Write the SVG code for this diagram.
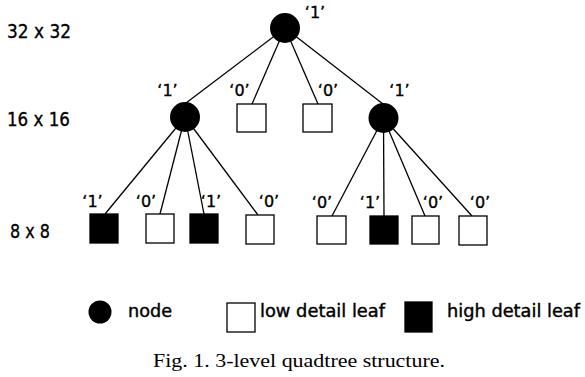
<svg xmlns="http://www.w3.org/2000/svg" width="585" height="377" viewBox="0 0 585 377">
  <style>
    .edge { stroke: #000; stroke-width: 1.3; fill: none; }
    .node { fill: #000; }
    .low { fill: #fff; stroke: #000; stroke-width: 1.3; }
    .high { fill: #000; stroke: #000; stroke-width: 1.3; }
    .lbl { font-family: "DejaVu Sans", "Liberation Sans", sans-serif; font-size: 16px; fill: #000; stroke: #000; stroke-width: 0.35; text-anchor: middle; }
    .lvl { font-family: "DejaVu Sans", "Liberation Sans", sans-serif; font-size: 19px; fill: #000; stroke: #000; stroke-width: 0.35; }
    .leg { font-family: "DejaVu Sans", "Liberation Sans", sans-serif; font-size: 17px; fill: #000; stroke: #000; stroke-width: 0.4; }
    .cap { font-family: "Liberation Serif", "Times New Roman", serif; font-size: 18px; fill: #000; }
  </style>

  <!-- level captions -->
  <g id="levels">
    <text class="lvl" x="7" y="38" textLength="64" lengthAdjust="spacingAndGlyphs">32 x 32</text>
    <text class="lvl" x="7" y="126" textLength="63" lengthAdjust="spacingAndGlyphs">16 x 16</text>
    <text class="lvl" x="10" y="238" textLength="40" lengthAdjust="spacingAndGlyphs">8 x 8</text>
  </g>

  <!-- tree edges -->
  <g id="connectors">
    <line class="edge" x1="285" y1="28" x2="186" y2="103"/>
    <line class="edge" x1="285" y1="28" x2="252" y2="104"/>
    <line class="edge" x1="285" y1="28" x2="318" y2="104"/>
    <line class="edge" x1="285" y1="28" x2="383" y2="104"/>
    <line class="edge" x1="185" y1="117" x2="105" y2="214"/>
    <line class="edge" x1="185" y1="117" x2="160" y2="214"/>
    <line class="edge" x1="185" y1="117" x2="204" y2="214"/>
    <line class="edge" x1="185" y1="117" x2="258" y2="215"/>
    <line class="edge" x1="383.5" y1="118" x2="332" y2="216"/>
    <line class="edge" x1="383.5" y1="118" x2="384" y2="216"/>
    <line class="edge" x1="383.5" y1="118" x2="425" y2="216"/>
    <line class="edge" x1="383.5" y1="118" x2="472" y2="216"/>
  </g>

  <!-- root -->
  <g id="root">
    <circle class="node" cx="285" cy="28" r="15"/>
    <text class="lbl" x="315" y="18">‘1’</text>
  </g>

  <!-- level 2 -->
  <g id="n16a">
    <circle class="node" cx="185" cy="117" r="15"/>
    <text class="lbl" x="167.5" y="96">‘1’</text>
  </g>
  <g id="n16b">
    <rect class="low" x="237" y="104" width="29" height="28"/>
    <text class="lbl" x="239.5" y="96">‘0’</text>
  </g>
  <g id="n16c">
    <rect class="low" x="303" y="104" width="29" height="28"/>
    <text class="lbl" x="328" y="96">‘0’</text>
  </g>
  <g id="n16d">
    <circle class="node" cx="383.5" cy="118" r="15"/>
    <text class="lbl" x="399.5" y="96">‘1’</text>
  </g>

  <!-- level 3 -->
  <g id="n8a">
    <rect class="high" x="90" y="214" width="28" height="29"/>
    <text class="lbl" x="92.5" y="207">‘1’</text>
  </g>
  <g id="n8b">
    <rect class="low" x="146" y="214" width="28" height="29"/>
    <text class="lbl" x="146" y="207">‘0’</text>
  </g>
  <g id="n8c">
    <rect class="high" x="190" y="214" width="28" height="29"/>
    <text class="lbl" x="211" y="207">‘1’</text>
  </g>
  <g id="n8d">
    <rect class="low" x="246" y="215" width="28" height="29"/>
    <text class="lbl" x="269" y="207">‘0’</text>
  </g>
  <g id="n8e">
    <rect class="low" x="317" y="216" width="29" height="28"/>
    <text class="lbl" x="322" y="208">‘0’</text>
  </g>
  <g id="n8f">
    <rect class="high" x="370" y="216" width="28" height="28"/>
    <text class="lbl" x="370" y="208">‘1’</text>
  </g>
  <g id="n8g">
    <rect class="low" x="412" y="216" width="27" height="28"/>
    <text class="lbl" x="433" y="208">‘0’</text>
  </g>
  <g id="n8h">
    <rect class="low" x="459" y="216" width="28" height="29"/>
    <text class="lbl" x="480" y="208">‘0’</text>
  </g>

  <!-- legend -->
  <g id="legend">
    <circle class="node" cx="100" cy="312" r="11.5"/>
    <text class="leg" x="128" y="317" textLength="44" lengthAdjust="spacingAndGlyphs">node</text>
    <rect class="low" x="227" y="303" width="28" height="29"/>
    <text class="leg" x="260" y="317" textLength="125" lengthAdjust="spacingAndGlyphs">low detail leaf</text>
    <rect class="high" x="405" y="302" width="27" height="30"/>
    <text class="leg" x="447" y="317" textLength="133" lengthAdjust="spacingAndGlyphs">high detail leaf</text>
  </g>

  <text class="cap" x="153" y="367" textLength="292" lengthAdjust="spacingAndGlyphs">Fig. 1. 3-level quadtree structure.</text>
</svg>
